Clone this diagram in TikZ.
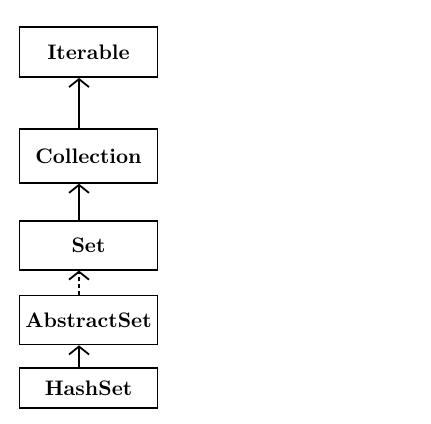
\documentclass[tikz,border=0pt]{standalone}
\usepackage{tikz}
\usetikzlibrary{arrows.meta,positioning}

\begin{document}
\begin{tikzpicture}[
  font=\fontsize{10.5}{12}\selectfont\bfseries,
  cls/.style={draw, line width=0.9pt, minimum width=69pt, inner sep=2pt, align=center},
  inh/.style={-{Straight Barb[length=4pt,width=10pt]}, line width=0.9pt},
  impl/.style={inh, dash pattern=on 2pt off 1.5pt}
]
\useasboundingbox (0,0) rectangle (215.5pt,-211.5pt);
\node[cls, minimum height=25pt] (iter) at (44.25pt,-26pt) {Iterable};
\node[cls, minimum height=27pt, below=25pt of iter] (coll) {Collection};
\node[cls, minimum height=24.5pt, below=18pt of coll] (set) {Set};
\node[cls, minimum height=24.5pt, below=12pt of set] (abs) {AbstractSet};
\node[cls, minimum height=20pt, below=11pt of abs] (hash) {HashSet};
% arrows sit left of the box centres
\coordinate (ax) at (39.5pt,0);
\draw[inh] (coll.north -| ax)--(iter.south -| ax);
\draw[inh] (set.north -| ax)--(coll.south -| ax);
\draw[impl] (abs.north -| ax)--(set.south -| ax);
\draw[inh] (hash.north -| ax)--(abs.south -| ax);
\end{tikzpicture}
\end{document}
